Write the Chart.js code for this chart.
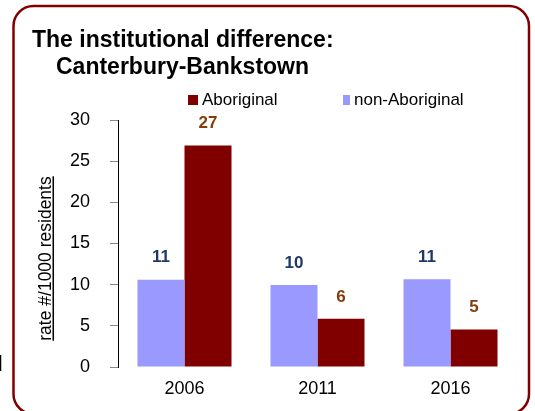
<!DOCTYPE html>
<html>
<head>
<meta charset="utf-8">
<script src="https://cdn.jsdelivr.net/npm/chart.js@4"></script>
<style>
	html, body { margin: 0; padding: 0; background: #fff; }
	#wrap { width: 535px; height: 411px; position: relative; }
</style>
</head>
<body>
<div id="wrap"><canvas id="rateChart" width="535" height="411"></canvas></div>
<script>
/* -------------------- data -------------------- */

var years          = [ '2006', '2011', '2016' ];
var nonAboriginal  = [ 10.6, 9.95, 10.65 ];
var aboriginal     = [ 26.9, 5.85, 4.55 ];
var nonLabels      = [ '11', '10', '11' ];
var abLabels       = [ '27', '6', '5' ];
var yTicks         = [ 0, 5, 10, 15, 20, 25, 30 ];

var titleLines = [ 'The institutional difference:', 'Canterbury-Bankstown' ];
var yTitle     = 'rate #/1000 residents';

var FONT = "'Liberation Sans', Arial, sans-serif";

/* -------------------- extras: frame, title, legend, labels -------------------- */

var decorPlugin = {
	id: 'decor',
	beforeDraw: function (chart) {
		var c = chart.ctx;
		c.save();
		c.fillStyle = '#fff';
		c.fillRect(0, 0, chart.width, chart.height);
		c.restore();
	},
	afterDraw: function (chart) {
		var c = chart.ctx;
		c.save();

		// rounded frame
		c.strokeStyle = '#800000';
		c.lineWidth = 2.5;
		c.beginPath();
		c.roundRect(13.5, 6, 515.5, 408, 20);
		c.stroke();

		// cut-off letter peeking in at the left edge
		c.fillStyle = '#000';
		c.font = '22px ' + FONT;
		c.textBaseline = 'alphabetic';
		c.textAlign = 'left';
		c.fillText('d', -9.5, 371);

		// title
		c.font = 'bold 23px ' + FONT;
		c.fillText(titleLines[0], 32, 46.5);
		c.fillText(titleLines[1], 56, 74);

		// legend (Aboriginal first)
		var ds = chart.data.datasets;
		var items = [
			{ ds: ds[1], x: 188, w: 10 },
			{ ds: ds[0], x: 343, w: 7 }
		];
		c.font = '17px ' + FONT;
		c.textBaseline = 'middle';
		items.forEach(function (it) {
			c.fillStyle = it.ds.backgroundColor;
			c.fillRect(it.x, 95, it.w, 10);
			c.fillStyle = '#000';
			c.fillText(it.ds.label, it.x + it.w + 4, 100.5);
		});

		// y axis title, underlined
		c.save();
		c.translate(51, 258.5);
		c.rotate(-Math.PI / 2);
		c.font = '17.5px ' + FONT;
		c.textAlign = 'center';
		c.textBaseline = 'alphabetic';
		c.fillStyle = '#000';
		c.fillText(yTitle, 0, 0);
		var tw = c.measureText(yTitle).width;
		c.fillRect(-tw / 2, 1.5, tw, 1.5);
		c.restore();

		// value labels above bars
		var labelSets = [ nonLabels, abLabels ];
		c.font = 'bold 17px ' + FONT;
		c.textAlign = 'center';
		c.textBaseline = 'middle';
		chart.data.datasets.forEach(function (d, i) {
			chart.getDatasetMeta(i).data.forEach(function (bar, j) {
				c.fillStyle = d.labelColor;
				c.fillText(labelSets[i][j], bar.x, bar.y - 22);
			});
		});

		c.restore();
	}
};

/* -------------------- chart -------------------- */

var ctx = document.getElementById('rateChart').getContext('2d');

var rateChart = new Chart(ctx, {
	type: 'bar',
	data: {
		labels: years,
		datasets: [{
			label: 'non-Aboriginal',
			data: nonAboriginal,
			backgroundColor: '#9999FF',
			labelColor: '#1F3864',
			borderWidth: 0,
			categoryPercentage: 0.707,
			barPercentage: 1
		}, {
			label: 'Aboriginal',
			data: aboriginal,
			backgroundColor: '#800000',
			labelColor: '#843C0C',
			borderWidth: 0,
			categoryPercentage: 0.707,
			barPercentage: 1
		}],
	},
	options: {
		responsive: false,
		animation: false,
		devicePixelRatio: 1,
		layout: {
			padding: {
				left:   58,
				right:  18,
				top:    120,
				bottom: 0
			},
		},
		plugins: {
			legend:  { display: false },
			title:   { display: false },
			tooltip: { enabled: false },
		},
		scales: {
			x: {
				grid:   { display: false, drawTicks: false },
				border: { display: false },
				ticks:  {
					color: '#000',
					padding: 11,
					font: { family: FONT, size: 18 }
				},
				afterFit: function (scale) { scale.height = 44; }
			},
			y: {
				min: 0,
				max: 30,
				afterBuildTicks: function (scale) {
					scale.ticks = yTicks.map(function (v) { return { value: v }; });
				},
				grid: {
					drawOnChartArea: false,
					drawTicks: true,
					tickLength: 8,
					color: '#888'
				},
				border: { display: true, color: '#000', width: 1 },
				ticks: {
					color: '#000',
					padding: 20,
					font: { family: FONT, size: 18 }
				},
				afterFit: function (scale) { scale.width = 60; }
			}
		}
	},
	plugins: [ decorPlugin ]
});
</script>
</body>
</html>
